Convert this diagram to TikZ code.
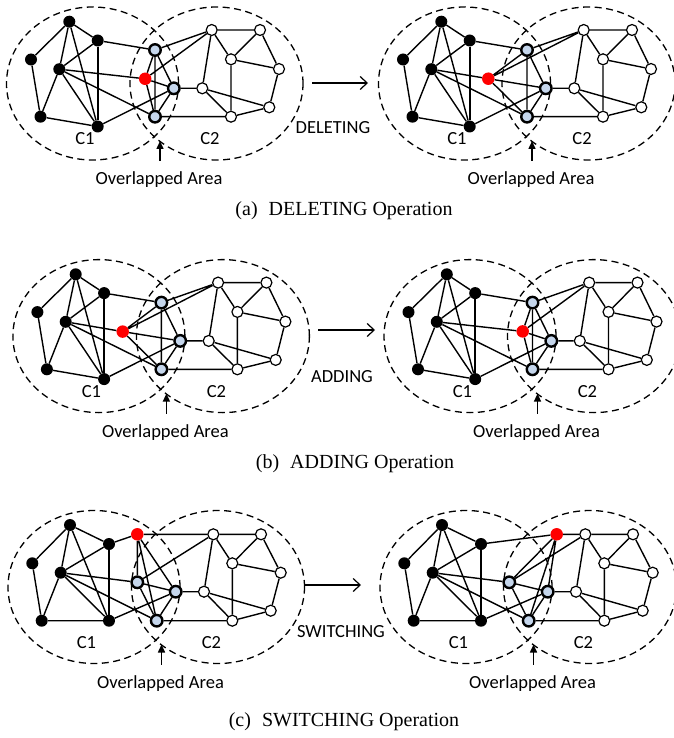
\documentclass[tikz,border=0pt]{standalone}
\usepackage{fontspec}
\setmainfont{Liberation Serif}
\newfontfamily\labfont{Carlito}
\usetikzlibrary{arrows.meta}
\definecolor{ovfill}{RGB}{197,214,236}
\tikzset{
 bn/.style={circle,fill=black,inner sep=0pt,minimum size=12pt},
 wn/.style={circle,draw=black,fill=white,line width=1.2pt,inner sep=0pt,minimum size=11pt},
 ovn/.style={circle,draw=black,fill=ovfill,line width=2.4pt,inner sep=0pt,minimum size=11.5pt},
 rn/.style={circle,fill=red,inner sep=0pt,minimum size=12.5pt},
 ed/.style={line width=1.4pt},
 thk/.style={line width=2.2pt},
 cl/.style={draw,dash pattern=on 7pt off 4.5pt,line width=1.3pt},
 lbl/.style={font=\labfont\fontsize{18.5}{20}\selectfont,inner sep=0pt},
 captext/.style={font=\fontsize{20}{22}\selectfont,inner sep=0pt},
 oparrow/.style={line width=1.2pt,-{Straight Barb[length=7pt,width=13pt]}},
 uparrow/.style={line width=1.5pt,-{Triangle[length=8pt,width=7pt]}},
}
\newcommand\mybasenodes[1]{%
 \foreach \n/\x/\y/\s in {B1/69.3/21.7/bn,B2/97.7/40.5/bn,B3/31/59.5/bn,B4/59.3/69.2/bn,B5/40.5/116.7/bn,B6/97.7/126.5/bn,O1/155/50/ovn,O2/173.8/88.3/ovn,O3/155/116.7/ovn,W1/211.7/30/wn,W2/260/30/wn,W3/231/59.3/wn,W4/279/69/wn,W5/202.3/88.3/wn,W6/269.3/107.3/wn,W7/231/116.7/wn}{\node[\s] (#1\n) at (\x,\y) {};}%
}
\newcommand\mycnodes[1]{%
 \foreach \n/\x/\y/\s in {B1/70/525/bn,B2/109/544/bn,B3/32.3/563.3/bn,B4/60.7/572.7/bn,B5/41.7/620.7/bn,B6/109/620.7/bn,R/137.3/582.3/ovn,O2/175.7/591.7/ovn,O3/156.7/620.7/ovn,W1/213.3/534.3/wn,W2/261/534.3/wn,W3/232.3/563.3/wn,W4/280.7/572.7/wn,W5/204/591.7/wn,W6/270.7/610.7/wn,W7/232.3/620.7/wn}{\node[\s] (#1\n) at (\x,\y) {};}%
}
\newcommand\mygraphedges[1]{%
 \draw[ed] (#1B1)--(#1B3) (#1B1)--(#1B2) (#1B1)--(#1B4) (#1B1)--(#1B6) (#1B3)--(#1B5)
  (#1B4)--(#1B5) (#1B5)--(#1B6) (#1B2)--(#1B4) (#1B4)--(#1B6) (#1B4)--(#1O3) (#1B4)--(#1R)
  (#1B2)--(#1O1) (#1B6)--(#1O2) (#1R)--(#1O1) (#1R)--(#1O2) (#1R)--(#1W1) (#1R)--(#1O3)
  (#1O1)--(#1O3) (#1O1)--(#1O2) (#1O2)--(#1O3) (#1O1)--(#1W1) (#1O3)--(#1W7) (#1O2)--(#1W5)
  (#1W1)--(#1W2) (#1W1)--(#1W3) (#1W1)--(#1W5) (#1W2)--(#1W3) (#1W2)--(#1W4) (#1W3)--(#1W4)
  (#1W3)--(#1W7) (#1W4)--(#1W6) (#1W5)--(#1W7) (#1W5)--(#1W6) (#1W6)--(#1W7);
 \draw[thk] (#1B2)--(#1B6);
}
\newcommand\mydecor[1]{%
 \draw[cl] (92.5,83.5) ellipse [x radius=86pt,y radius=76.5pt];
 \draw[cl] (216.5,83.5) ellipse [x radius=86.5pt,y radius=76.5pt];
 \node[lbl] (#1C1) at (85,139) {C1};
 \node[lbl] (#1C2) at (210,139) {C2};
 \coordinate (#1AT) at (160,161);
 \coordinate (#1AH) at (160,141);
 \draw[uparrow] (#1AT) -- (#1AH);
 \node[lbl] (#1OA) at (159,180) {Overlapped Area};
}
\begin{document}
\begin{tikzpicture}[x=1pt,y=-1pt]
\useasboundingbox (0,0) rectangle (673,738);
% ---------- (a)
\begin{scope}
 \mydecor{aL}
 \mybasenodes{aL}
 \node[rn] (aLR) at (145.2,78.8) {};
 \mygraphedges{aL}
\end{scope}
\begin{scope}[shift={(372,0)}]
 \mydecor{aR}
 \mybasenodes{aR}
 \node[rn] (aRR) at (116.3,78.7) {};
 \mygraphedges{aR}
\end{scope}
\node[lbl] (opa) at (333,128) {DELETING};
\coordinate (opaS) at (312,83);
\coordinate (opaE) at (368,83);
\draw[oparrow] (opaS) -- (opaE);
\node[captext] (capa) at (344,211) {(a)\hspace{0.3em} DELETING Operation};
% ---------- (b)
\begin{scope}[shift={(6.4,252.6)}]
 \mydecor{bL}
 \mybasenodes{bL}
 \node[rn] (bLR) at (116.3,79) {};
 \mygraphedges{bL}
\end{scope}
\begin{scope}[shift={(377.5,252.6)}]
 \mydecor{bR}
 \mybasenodes{bR}
 \node[rn] (bRR) at (145.2,78.8) {};
 \mygraphedges{bR}
\end{scope}
\node[lbl] (opb) at (342,377) {ADDING};
\coordinate (opbS) at (318,330);
\coordinate (opbE) at (375,330);
\draw[oparrow] (opbS) -- (opbE);
\node[captext] (capb) at (355,464) {(b)\hspace{0.3em} ADDING Operation};
% ---------- (c)
\begin{scope}[shift={(1.5,503.5)}]
 \mydecor{cL}
\end{scope}
\begin{scope}[shift={(373.5,503.5)}]
 \mydecor{cR}
\end{scope}
\mycnodes{cL}
\node[rn] (cLO1) at (137.3,534.3) {};
\mygraphedges{cL}
\begin{scope}[shift={(372,0)}]
 \mycnodes{cR}
 \node[rn] (cRO1) at (184.7,534.3) {};
 \mygraphedges{cR}
\end{scope}
\node[lbl] (opc) at (341,632) {SWITCHING};
\coordinate (opcS) at (305,585);
\coordinate (opcE) at (361,585);
\draw[oparrow] (opcS) -- (opcE);
\node[captext] (capc) at (344,722) {(c)\hspace{0.3em} SWITCHING Operation};
\end{tikzpicture}
\end{document}
